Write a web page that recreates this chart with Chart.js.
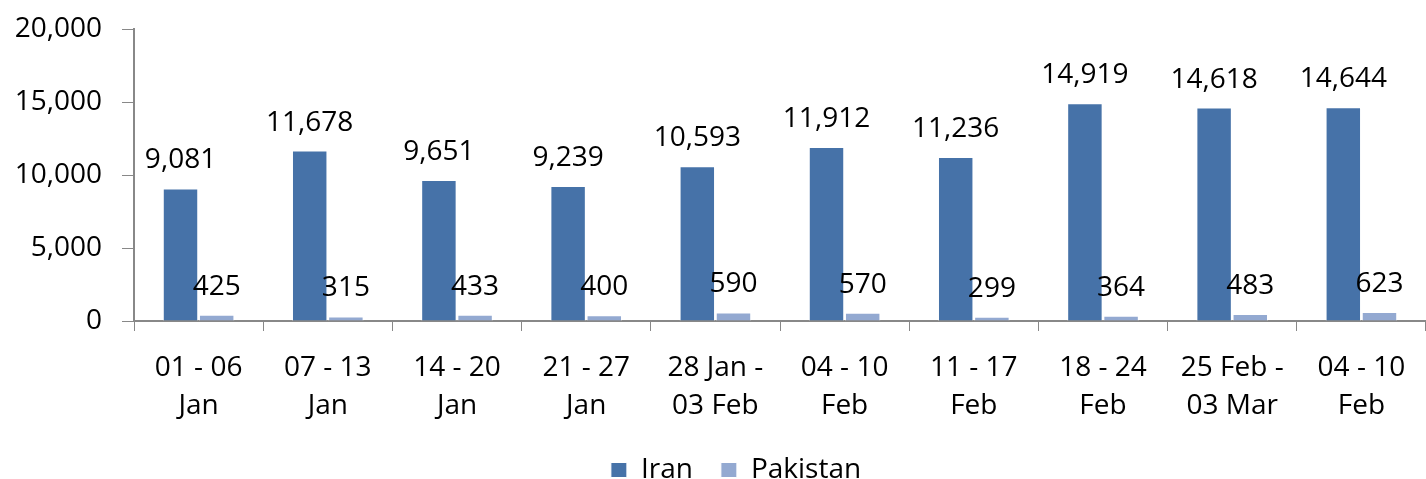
<!DOCTYPE html>
<html>
<head>
<meta charset="utf-8">
<script src="https://cdn.jsdelivr.net/npm/chart.js@4.4.0/dist/chart.umd.min.js"></script>
<style>
    html, body { margin: 0; padding: 0; background: #fff; overflow: hidden; }
    #wrap { width: 1426px; height: 509px; }
</style>
</head>
<body>
<div id="wrap"><canvas id="WeekChart"></canvas></div>
<script>
var Weeks = [
    ['01 - 06', 'Jan'], ['07 - 13', 'Jan'], ['14 - 20', 'Jan'], ['21 - 27', 'Jan'],
    ['28 Jan -', '03 Feb'], ['04 - 10', 'Feb'], ['11 - 17', 'Feb'], ['18 - 24', 'Feb'],
    ['25 Feb -', '03 Mar'], ['04 - 10', 'Feb']
];
var IranValues = [9081, 11678, 9651, 9239, 10593, 11912, 11236, 14919, 14618, 14644];
var PakistanValues = [425, 315, 433, 400, 590, 570, 299, 364, 483, 623];
var YTicks = [0, 5000, 10000, 15000, 20000];

var FontName = "'Open Sans', sans-serif";

// draws the value above each bar
var ValueLabels = {
    id: 'valueLabels',
    afterDatasetsDraw: function (chart) {
        var ctx = chart.ctx;
        ctx.save();
        ctx.font = '28px ' + FontName;
        ctx.fillStyle = '#000';
        ctx.textAlign = 'center';
        ctx.textBaseline = 'alphabetic';
        chart.data.datasets.forEach(function (ds, i) {
            chart.getDatasetMeta(i).data.forEach(function (bar, j) {
                ctx.fillText(ds.data[j].toLocaleString('en-US'), bar.x, bar.y - 20);
            });
        });
        ctx.restore();
    }
};

// legend sits a bit right of centre and tucked up in the original
var LegendShift = {
    id: 'legendShift',
    afterLayout: function (chart) {
        if (chart.legend) {
            chart.legend.left += 23;
            chart.legend.right += 23;
            chart.legend.top -= 15;
            chart.legend.bottom -= 15;
        }
    }
};

var myBarChart = new Chart(document.getElementById('WeekChart'), {
    type: 'bar',
    data: {
        labels: Weeks,
        datasets: [{
            label: 'Iran',
            data: IranValues,
            backgroundColor: '#4672A8',
            borderColor: '#ffffff',
            borderWidth: 1
        }, {
            label: 'Pakistan',
            data: PakistanValues,
            backgroundColor: '#93A9D1',
            borderColor: '#ffffff',
            borderWidth: 1
        }]
    },
    options: {
        responsive: true,
        maintainAspectRatio: false,
        animation: false,
        layout: { padding: { top: 29, right: 0, left: 0, bottom: 0 } },
        datasets: { bar: { categoryPercentage: 0.56, barPercentage: 0.98 } },
        plugins: {
            tooltip: { enabled: false },
            legend: {
                position: 'bottom',
                labels: {
                    boxWidth: 16,
                    boxHeight: 15,
                    padding: 28,
                    color: '#000',
                    font: { family: FontName, size: 28 }
                }
            }
        },
        scales: {
            x: {
                offset: true,
                grid: { display: true, offset: true, drawOnChartArea: false, tickLength: 10, color: '#888' },
                border: { color: '#888', width: 2 },
                ticks: { color: '#000', maxRotation: 0, padding: 18, font: { family: FontName, size: 28, lineHeight: 1.357 } }
            },
            y: {
                min: 0,
                max: 20000,
                afterBuildTicks: function (axis) {
                    axis.ticks = YTicks.map(function (v) { return { value: v }; });
                },
                afterFit: function (axis) {
                    axis.width = 134;
                    axis.paddingTop = 0;
                    axis.paddingBottom = 0;
                },
                grid: { display: true, drawOnChartArea: false, tickLength: 12, color: '#888' },
                border: { color: '#888', width: 2 },
                ticks: {
                    color: '#000',
                    padding: 20,
                    font: { family: FontName, size: 28 },
                    callback: function (v) { return v.toLocaleString('en-US'); }
                }
            }
        }
    },
    plugins: [ValueLabels, LegendShift]
});
</script>
</body>
</html>
